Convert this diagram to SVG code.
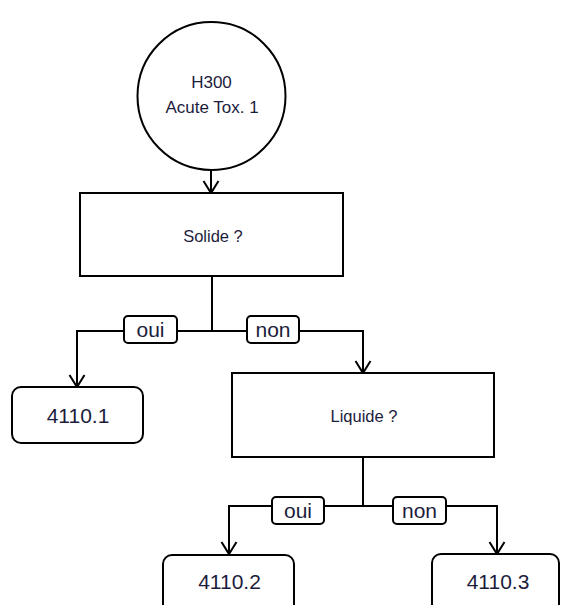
<svg xmlns="http://www.w3.org/2000/svg" width="561" height="605" viewBox="0 0 561 605">
<style>
.shape{fill:#fff;stroke:#000;stroke-width:2}
.line{fill:none;stroke:#000;stroke-width:2}
.t{font-family:"Liberation Sans",Arial,sans-serif;fill:#1c1c3c;text-anchor:middle}
</style>
<defs>
<marker id="arr" markerUnits="userSpaceOnUse" markerWidth="16" markerHeight="18" viewBox="0 0 16 18" refX="13" refY="9" orient="auto">
<path d="M1,1.5 L13,9 L1,16.5" fill="none" stroke="#000" stroke-width="2"/>
</marker>
</defs>
<rect width="561" height="605" fill="#fff"/>
<g id="connectors">
<line class="line" x1="211" y1="170" x2="211" y2="193" marker-end="url(#arr)"/>
<polyline class="line" points="212,276 212,331 77,331 77,387" marker-end="url(#arr)"/>
<polyline class="line" points="212,331 363,331 363,373" marker-end="url(#arr)"/>
<polyline class="line" points="363,457 363,506 229,506 229,554" marker-end="url(#arr)"/>
<polyline class="line" points="363,506 497,506 497,554" marker-end="url(#arr)"/>
</g>
<g id="start">
<circle class="shape" cx="211.5" cy="96" r="74"/>
<text class="t" x="211.5" y="88" font-size="17">H300</text>
<text class="t" x="212" y="113" font-size="17">Acute Tox. 1</text>
</g>
<g id="solide">
<rect class="shape" x="80" y="193" width="263" height="83"/>
<text class="t" x="213" y="242" font-size="16.5">Solide ?</text>
</g>
<g id="label-oui-1">
<rect class="shape" x="124" y="316" width="53" height="27" rx="4"/>
<text class="t" x="150.5" y="337" font-size="21">oui</text>
</g>
<g id="label-non-1">
<rect class="shape" x="247" y="316" width="52" height="27" rx="4"/>
<text class="t" x="273" y="337" font-size="21">non</text>
</g>
<g id="r4110-1">
<rect class="shape" x="12" y="387" width="131" height="56" rx="9"/>
<text class="t" x="78" y="423" font-size="21">4110.1</text>
</g>
<g id="liquide">
<rect class="shape" x="232" y="373" width="262" height="84"/>
<text class="t" x="364" y="422" font-size="16.5">Liquide ?</text>
</g>
<g id="label-oui-2">
<rect class="shape" x="272" y="497" width="52" height="27" rx="4"/>
<text class="t" x="298" y="518" font-size="21">oui</text>
</g>
<g id="label-non-2">
<rect class="shape" x="393" y="497" width="53" height="27" rx="4"/>
<text class="t" x="419.5" y="518" font-size="21">non</text>
</g>
<g id="r4110-2">
<rect class="shape" x="163" y="555" width="131" height="62" rx="9"/>
<text class="t" x="229.5" y="589" font-size="21">4110.2</text>
</g>
<g id="r4110-3">
<rect class="shape" x="432" y="554" width="127" height="62" rx="9"/>
<text class="t" x="498" y="589" font-size="21">4110.3</text>
</g>
</svg>
